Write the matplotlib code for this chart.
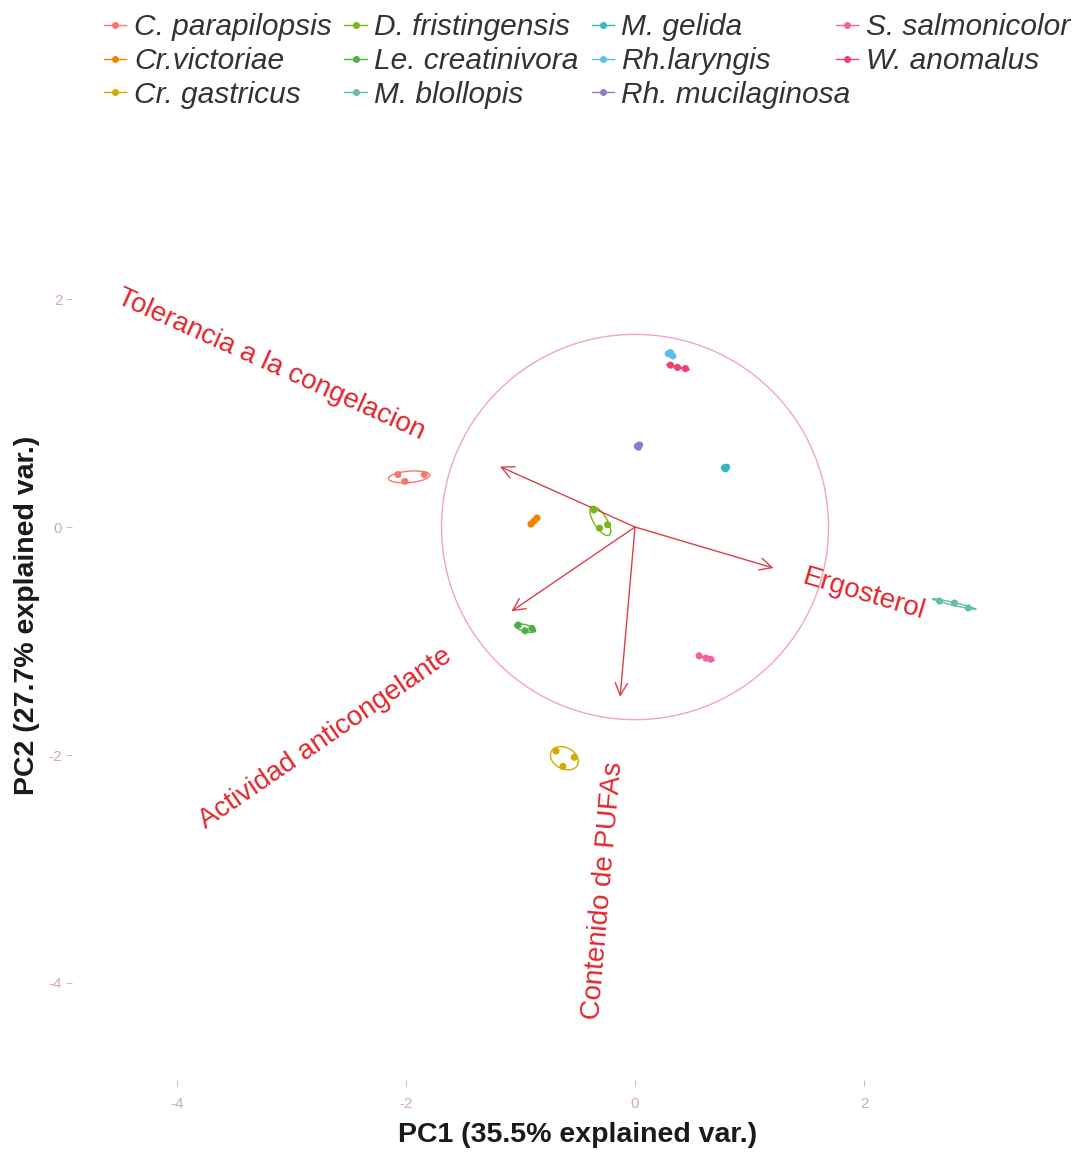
import numpy as np
import matplotlib
matplotlib.use("Agg")
import matplotlib.pyplot as plt
from matplotlib.lines import Line2D

plt.rcParams["font.family"] = ["Liberation Sans", "DejaVu Sans"]
plt.rcParams["axes.unicode_minus"] = False

# Species (legend order) and their colours
species = ["C. parapilopsis", "Cr.victoriae", "Cr. gastricus",
           "D. fristingensis", "Le. creatinivora", "M. blollopis",
           "M. gelida", "Rh.laryngis", "Rh. mucilaginosa",
           "S. salmonicolor", "W. anomalus"]
colors = ["#F8766D", "#F08400", "#D4AA00",
          "#7CB518", "#4DB040", "#62BFA0",
          "#35B5C2", "#5CBDEA", "#8F7CC8",
          "#F2629E", "#F0406E"]

# PC scores of the replicates for each species
pc1 = {
    "C. parapilopsis": [-2.07, -2.01, -1.84],
    "Cr.victoriae": [-0.908, -0.882, -0.856],
    "Cr. gastricus": [-0.69, -0.53, -0.63],
    "D. fristingensis": [-0.36, -0.31, -0.24],
    "Le. creatinivora": [-1.02, -0.96, -0.90],
    "M. blollopis": [2.66, 2.79, 2.91],
    "M. gelida": [0.78, 0.79, 0.80],
    "Rh.laryngis": [0.29, 0.33, 0.31],
    "Rh. mucilaginosa": [0.02, 0.03, 0.04],
    "S. salmonicolor": [0.56, 0.62, 0.66],
    "W. anomalus": [0.31, 0.37, 0.44],
}
pc2 = {
    "C. parapilopsis": [0.46, 0.40, 0.46],
    "Cr.victoriae": [0.026, 0.053, 0.079],
    "Cr. gastricus": [-1.965, -2.02, -2.10],
    "D. fristingensis": [0.15, -0.01, 0.02],
    "Le. creatinivora": [-0.86, -0.91, -0.89],
    "M. blollopis": [-0.65, -0.667, -0.71],
    "M. gelida": [0.52, 0.51, 0.525],
    "Rh.laryngis": [1.52, 1.50, 1.53],
    "Rh. mucilaginosa": [0.71, 0.70, 0.72],
    "S. salmonicolor": [-1.13, -1.15, -1.16],
    "W. anomalus": [1.42, 1.40, 1.39],
}

# Variable loadings (arrow tips)
var_names = ["Tolerancia a la congelacion", "Ergosterol",
             "Actividad anticongelante", "Contenido de PUFAs"]
var_x = [-1.18, 1.21, -1.08, -0.13]
var_y = [0.53, -0.36, -0.74, -1.49]
circle_radius = 1.69
varname_adjust = 1.5

x_ticks = [-4, -2, 0, 2]
y_ticks = [-4, -2, 0, 2]

W, H = 1079, 1152
fig = plt.figure(figsize=(W / 100, H / 100), dpi=100)
ax = fig.add_axes([72 / W, (H - 1080) / H, (1077 - 72) / W, (1080 - 140) / H])
ax.set_xlim(-4.917, 3.860)
ax.set_ylim(-4.851, 3.395)
for s in ax.spines.values():
    s.set_visible(False)

# correlation circle
t = np.linspace(0, 2 * np.pi, 400)
ax.plot(circle_radius * np.cos(t), circle_radius * np.sin(t),
        color="#F2A6B8", lw=1.0, zorder=1)

# groups: points + 68% normal ellipses
ed = np.sqrt(-2 * np.log(1 - 0.68))
circ = np.column_stack([np.cos(t), np.sin(t)])
for sp, col in zip(species, colors):
    xs = np.array(pc1[sp]); ys = np.array(pc2[sp])
    ax.scatter(xs, ys, s=26, color=col, edgecolors="none", zorder=3)
    pts = np.column_stack([xs, ys])
    cov = np.cov(pts.T)
    L = np.linalg.cholesky(cov)
    ell = circ @ L.T * ed + pts.mean(axis=0)
    ax.plot(ell[:, 0], ell[:, 1], color=col, lw=1.0, zorder=2)

# arrows
arrow_col = "#D9404C"
for vx, vy in zip(var_x, var_y):
    ax.annotate("", xy=(vx, vy), xytext=(0, 0),
                arrowprops=dict(arrowstyle="->", color=arrow_col, lw=1.0,
                                mutation_scale=22, shrinkA=0, shrinkB=0),
                zorder=2)

# variable labels, placed beyond the arrow tips along their direction
fig.canvas.draw()
renderer = fig.canvas.get_renderer()
for name, vx, vy in zip(var_names, var_x, var_y):
    txt = ax.text(0, 0, name, fontsize=20, color="#E3262E")
    w = txt.get_window_extent(renderer).width
    txt.remove()
    tip = ax.transData.transform((vx, vy))
    org = ax.transData.transform((0, 0))
    u = (tip - org) / np.linalg.norm(tip - org)
    center_px = tip + u * varname_adjust * w / 2
    cx, cy = ax.transData.inverted().transform(center_px)
    ang = np.degrees(np.arctan(vy / vx))
    ax.text(cx, cy, name, fontsize=20, color="#E3262E", rotation=ang,
            rotation_mode="anchor", ha="center", va="center")

# ticks
ax.set_xticks(x_ticks)
ax.set_yticks(y_ticks)
ax.set_xticklabels([str(v) for v in x_ticks])
ax.set_yticklabels([str(v) for v in y_ticks])
ax.tick_params(axis="both", length=4, width=0.8, color="#C8C0C8",
               labelcolor="#D3A8BC", labelsize=11)
ax.tick_params(axis="x", pad=8)
ax.tick_params(axis="y", pad=3)

fig.text(578 / W, 1 - 1135 / H, "PC1 (35.5% explained var.)", fontsize=20.5,
         fontweight="bold", ha="center", va="center", color="#1a1a1a")
fig.text(27 / W, 1 - 615 / H, "PC2 (27.7% explained var.)", fontsize=20.5,
         fontweight="bold", ha="center", va="center", rotation=90,
         color="#1a1a1a")

# legend: three full columns, then the last column on its own
handles = [Line2D([0], [0], color=c, lw=1.0, marker="o", markersize=4)
           for c in colors]
leg_kw = dict(loc="upper left", frameon=False,
              prop=dict(style="italic", size=21.5), handlelength=0.75,
              handletextpad=0.25, columnspacing=0.43, labelspacing=0.2,
              borderpad=0, borderaxespad=0, labelcolor="#333333")
fig.legend(handles[:9], species[:9], ncol=3,
           bbox_to_anchor=(104 / W, 1 - 13 / H), **leg_kw)
fig.legend(handles[9:], species[9:], ncol=1,
           bbox_to_anchor=(836 / W, 1 - 13 / H), **leg_kw)

fig.savefig("out.png", dpi=100)
